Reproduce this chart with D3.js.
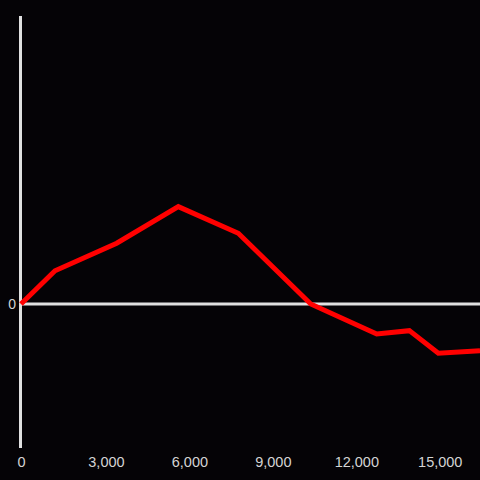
<!DOCTYPE html>
<html><head><meta charset="utf-8">
<script src="https://cdn.jsdelivr.net/npm/d3@7"></script>
<style>html,body{margin:0;padding:0;background:#050306;}svg{display:block;}</style>
</head><body>
<svg id="c" width="480" height="480"></svg>
<script>
const xValues = [0, 1222, 3440, 5655, 7812, 10415, 12787, 13960, 15002, 16500];
const yValues = [0, 0.231, 0.422, 0.676, 0.491, 0, -0.208, -0.185, -0.342, -0.324];
const xTicks = [0, 3000, 6000, 9000, 12000, 15000];
const yTicks = [0];

const svg = d3.select("#c");
svg.append("rect").attr("width",480).attr("height",480).attr("fill","#050306");

const x = d3.scaleLinear().domain([0,16500]).range([21,480]);
const y = d3.scaleLinear().domain([-1,2]).range([448,16]);

// y axis line
svg.append("line").attr("x1",20.5).attr("x2",20.5).attr("y1",y(2)).attr("y2",y(-1))
  .attr("stroke","#e0e0e0").attr("stroke-width",3);
// zero line
svg.append("line").attr("x1",20).attr("x2",480).attr("y1",y(0)).attr("y2",y(0))
  .attr("stroke","#e0e0e0").attr("stroke-width",3);

const fmt = d3.format(",");
svg.selectAll("text.xt").data(xTicks).enter().append("text")
  .attr("class","xt").attr("x",d=>x(d)+(d===0?0.5:2)).attr("y",467)
  .attr("text-anchor","middle").attr("fill","#d4d4d4")
  .attr("font-family","Liberation Sans, Arial, sans-serif").attr("font-size",14.5)
  .text(d=>fmt(d));
svg.selectAll("text.yt").data(yTicks).enter().append("text")
  .attr("class","yt").attr("x",16).attr("y",y(0)).attr("dy","0.35em")
  .attr("text-anchor","end").attr("fill","#d4d4d4")
  .attr("font-family","Liberation Sans, Arial, sans-serif").attr("font-size",14)
  .text(d=>fmt(d));

const data = xValues.map((v,i)=>[v,yValues[i]]);
svg.append("path").datum(data)
  .attr("d", d3.line().x(d=>x(d[0])).y(d=>y(d[1])))
  .attr("fill","none").attr("stroke","#ff0000").attr("stroke-width",5)
  .attr("stroke-linejoin","miter");
</script>
</body></html>
